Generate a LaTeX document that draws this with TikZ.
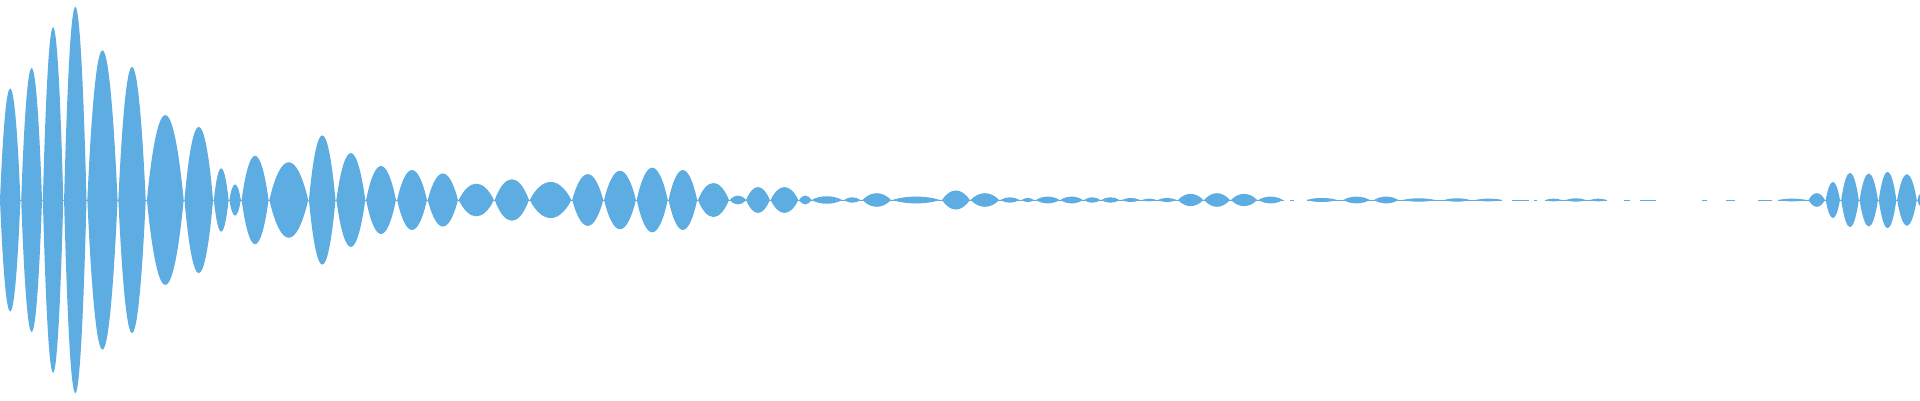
\documentclass[tikz,border=0pt]{standalone}
\definecolor{wave}{RGB}{93,173,226}
\tikzset{wf/.style={fill=wave}}
\newcommand\lb[4]{%
  \pgfmathsetmacro\xa{#1+#2/2.45}%
  \pgfmathsetmacro\xb{#1+#3/2.45}%
  \pgfmathsetmacro\am{max((598-#4)/2.94,0.8)*4/3}%
  \pgfmathsetmacro\ww{\xb-\xa}%
  \fill[wf] (\xa,200) .. controls ({\xa+0.3*\ww},{200+\am}) and ({\xb-0.3*\ww},{200+\am}) .. (\xb,200)
     .. controls ({\xb-0.3*\ww},{200-\am}) and ({\xa+0.3*\ww},{200-\am}) .. (\xa,200) -- cycle;}
\begin{document}
\begin{tikzpicture}[x=1pt,y=1pt]
\useasboundingbox (0,0) rectangle (1920,400);
\fill[wf] (0,199.5) rectangle (1920,200.5);
% first region
\lb{0}{0}{50}{270}
\lb{0}{52}{103}{210}
\lb{0}{105}{155}{90}
\lb{0}{157}{212}{30}
\lb{0}{214}{288}{158}
\lb{0}{290}{357}{207}
\lb{0}{360}{450}{348}
\lb{0}{452}{522}{383}
\lb{0}{524}{560}{505}
\lb{0}{562}{590}{552}
\lb{0}{592}{658}{468}
\lb{0}{660}{755}{487}
\lb{0}{757}{822}{408}
\lb{0}{824}{895}{460}
\lb{0}{897}{970}{498}
\lb{0}{973}{1046}{510}
\lb{0}{1048}{1122}{520}
\lb{0}{1124}{1210}{550}
\lb{0}{1212}{1296}{537}
\lb{0}{1298}{1400}{545}
\lb{0}{1402}{1478}{522}
\lb{0}{1480}{1558}{512}
% second region
\lb{640}{-8}{68}{503}
\lb{640}{70}{140}{510}
\lb{640}{142}{218}{548}
\lb{640}{220}{260}{585}
\lb{640}{260}{318}{560}
\lb{640}{320}{388}{560}
\lb{640}{390}{420}{585}
\lb{640}{420}{495}{587}
\lb{640}{500}{540}{590}
\lb{640}{545}{615}{578}
\lb{640}{618}{735}{588}
\lb{640}{740}{808}{570}
\lb{640}{810}{880}{578}
\lb{640}{883}{930}{590}
\lb{640}{935}{965}{592}
\lb{640}{970}{1028}{588}
\lb{640}{1030}{1085}{588}
\lb{640}{1088}{1128}{590}
\lb{640}{1130}{1175}{590}
\lb{640}{1180}{1225}{592}
\lb{640}{1230}{1265}{594}
\lb{640}{1268}{1315}{592}
\lb{640}{1318}{1380}{580}
\lb{640}{1382}{1445}{578}
\lb{640}{1448}{1512}{580}
\lb{640}{1515}{1575}{588}
% third region
\lb{1280}{65}{140}{592}
\lb{1280}{155}{220}{588}
\lb{1280}{230}{290}{588}
\lb{1280}{300}{380}{593}
\lb{1280}{402}{465}{593}
\lb{1280}{478}{545}{594}
\lb{1280}{650}{690}{594}
\lb{1280}{700}{750}{593}
\lb{1280}{760}{800}{594}
\lb{1280}{1220}{1290}{594}
\lb{1280}{1295}{1335}{578}
\lb{1280}{1337}{1372}{545}
\lb{1280}{1375}{1418}{518}
\lb{1280}{1420}{1465}{520}
\lb{1280}{1467}{1510}{515}
\lb{1280}{1512}{1560}{522}
\lb{1280}{1562}{1575}{580}
% gaps in the thin line
\fill[white] (1280+10/2.45,198) rectangle (1280+25/2.45,202);
\fill[white] (1280+35/2.45,198) rectangle (1280+65/2.45,202);
\fill[white] (1280+545/2.45,198) rectangle (1280+568/2.45,202);
\fill[white] (1280+610/2.45,198) rectangle (1280+622/2.45,202);
\fill[white] (1280+630/2.45,198) rectangle (1280+650/2.45,202);
\fill[white] (1280+800/2.45,198) rectangle (1280+843/2.45,202);
\fill[white] (1280+858/2.45,198) rectangle (1280+882/2.45,202);
\fill[white] (1280+922/2.45,198) rectangle (1280+1035/2.45,202);
\fill[white] (1280+1045/2.45,198) rectangle (1280+1093/2.45,202);
\fill[white] (1280+1115/2.45,198) rectangle (1280+1170/2.45,202);
\fill[white] (1280+1205/2.45,198) rectangle (1280+1220/2.45,202);
\end{tikzpicture}
\end{document}
